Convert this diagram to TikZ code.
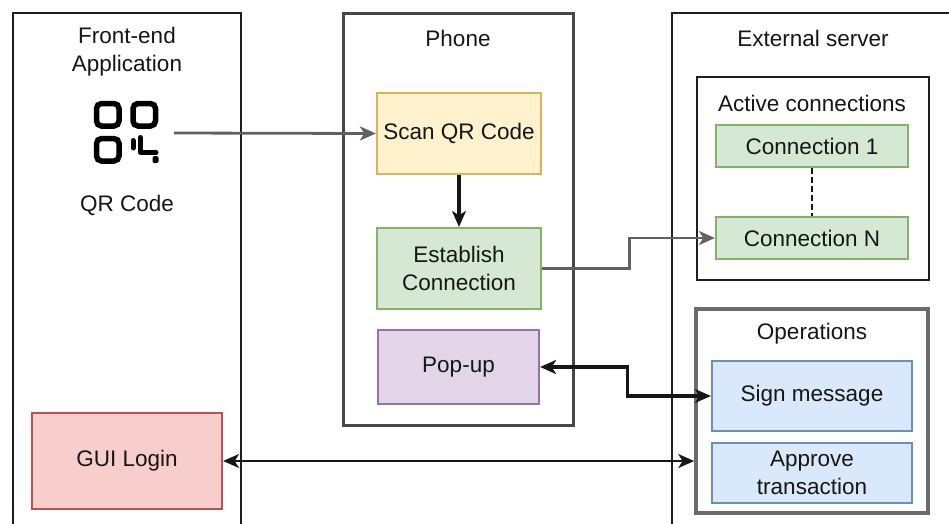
\documentclass[tikz,border=0pt]{standalone}
\usepackage{fontspec}
\setmainfont{Liberation Sans}
\usetikzlibrary{arrows.meta}

\definecolor{ink}{HTML}{161616}
\definecolor{frameline}{HTML}{1E1E1E}
\definecolor{yelF}{HTML}{FFF2CC}\definecolor{yelS}{HTML}{D6B656}
\definecolor{grnF}{HTML}{D5E8D4}\definecolor{grnS}{HTML}{82B366}
\definecolor{purF}{HTML}{E1D5E7}\definecolor{purS}{HTML}{9673A6}
\definecolor{redF}{HTML}{F8CECC}\definecolor{redS}{HTML}{B85450}
\definecolor{bluF}{HTML}{DAE8FC}\definecolor{bluS}{HTML}{6C8EBF}

\tikzset{
  >={Stealth[length=16pt,width=14pt,inset=4.5pt]},
  lbl/.style={text=ink, font=\fontsize{22.5}{27.5}\selectfont, align=center, inner sep=0pt},
  frame/.style={draw=frameline, line width=2.6pt, rectangle, inner sep=0pt},
  group/.style={draw=frameline, line width=2.6pt, rectangle, inner sep=0pt},
  card/.style={rectangle, line width=2.2pt, inner sep=2pt, text=ink,
     font=\fontsize{22.5}{27.5}\selectfont, align=center},
  yel/.style={card, fill=yelF, draw=yelS},
  grn/.style={card, fill=grnF, draw=grnS},
  pur/.style={card, fill=purF, draw=purS},
  redbox/.style={card, fill=redF, draw=redS},
  blu/.style={card, fill=bluF, draw=bluS},
  grayline/.style={draw=black!62, line width=2.8pt},
  darkline/.style={draw=ink, line width=3.2pt},
  qrstroke/.style={draw=black, line width=5.5pt, rounded corners=5pt},
}

\begin{document}
\begin{tikzpicture}[x=1pt, y=-1pt]
\clip (0,0) rectangle (949,523);
\fill[white] (0,0) rectangle (949,523);

% swim-lane frames
\node[frame, minimum width=228, minimum height=527] (front) at (127,276.5) {};
\node[frame, minimum width=230, minimum height=412, draw=black!72, line width=3pt] (phone) at (458,219) {};
\node[frame, minimum width=293, minimum height=527] (server) at (818.5,276.5) {};

% lane titles
\node[lbl] (tfront) at (127,51.5) {Front-end\\Application};
\node[lbl] (tphone) at (458,38) {Phone};
\node[lbl] (tserver) at (813,38) {External server};

% QR code glyph
\begin{scope}
  \draw[qrstroke] (96.5,103.5) rectangle (119,126);
  \draw[qrstroke] (133,103.5) rectangle (155.5,126);
  \draw[qrstroke] (96.5,138.5) rectangle (119,161);
  \draw[black, line width=5pt, line cap=round] (133,140.5) -- (133,148);
  \draw[black, line width=5pt, line cap=round, line join=round] (140.5,137.5) -- (140.5,152.5) -- (156,152.5);
  \fill[black, rounded corners=1.5pt] (152.5,156) rectangle (158.5,163);
\end{scope}
\node[lbl] (tqr) at (127,205) {QR Code};
\coordinate (qrout) at (174,133);

% phone steps
\node[yel, minimum width=164, minimum height=81] (scan) at (459,133.5) {Scan QR Code};
\node[grn, minimum width=164, minimum height=81] (est) at (459,268.5) {Establish\\Connection};
\node[pur, minimum width=161, minimum height=74] (pop) at (458.5,367) {Pop-up};

% front-end login
\node[redbox, minimum width=190, minimum height=96] (gui) at (127,461) {GUI Login};

% server groups
\node[group, minimum width=232, minimum height=203] (active) at (813,178.5) {};
\node[lbl] (tactive) at (812,103) {Active connections};
\node[grn, minimum width=192, minimum height=42] (c1) at (812,146) {Connection 1};
\node[grn, minimum width=192, minimum height=42] (cn) at (812,238) {Connection N};

\node[group, minimum width=232, minimum height=204, draw=black!58, line width=3.6pt] (ops) at (812,411) {};
\node[lbl] (tops) at (812,334) {Operations};
\node[blu, minimum width=200, minimum height=70] (sign) at (812,396) {Sign message};
\node[blu, minimum width=200, minimum height=60] (appr) at (812,473) {Approve\\transaction};

% connectors
\draw[grayline, ->] (qrout) -- (scan.west);
\draw[darkline, ->] (scan.south) -- (est.north);
\draw[grayline, ->] (est.east) -- ++(87,0) |- (cn.west);
\draw[ink, line width=2.8pt, dash pattern=on 6pt off 3pt] (c1.south) -- (cn.north);
\draw[darkline, <->] (pop.east) -- ++(87,0) |- (sign.west);
\draw[ink, line width=2.4pt, <->] (gui.east) -- (gui.east -| ops.west);
\end{tikzpicture}
\end{document}
